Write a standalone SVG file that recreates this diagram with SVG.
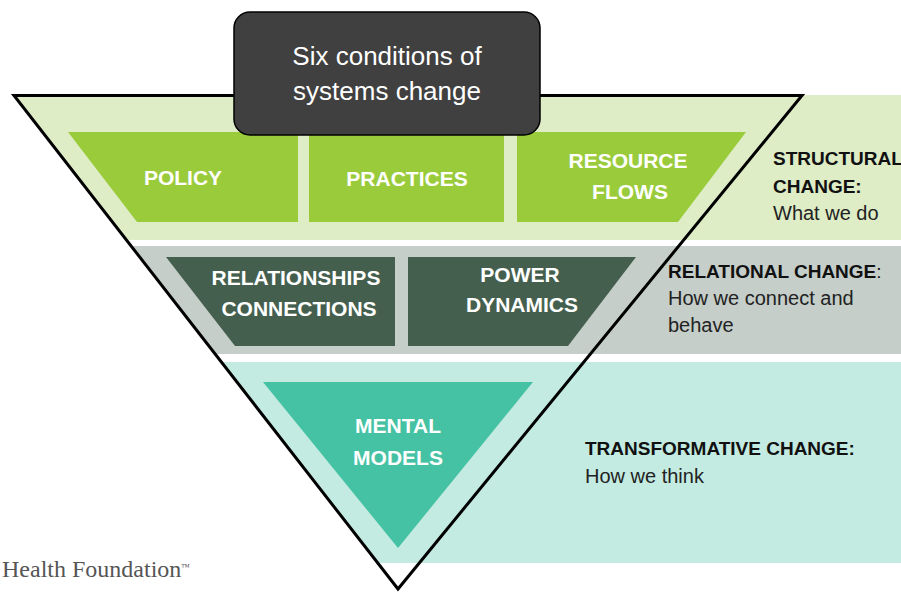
<svg xmlns="http://www.w3.org/2000/svg" width="901" height="592" viewBox="0 0 901 592">
<style>
.lbl{font-family:"Liberation Sans",Arial,sans-serif;font-weight:bold;font-size:21px;fill:#ffffff;text-anchor:middle}
.hd{font-family:"Liberation Sans",Arial,sans-serif;font-weight:bold;font-size:19px;fill:#111111}
.tx{font-family:"Liberation Sans",Arial,sans-serif;font-size:20px;fill:#222222}
.ttl{font-family:"Liberation Sans",Arial,sans-serif;font-size:26px;fill:#ffffff;text-anchor:middle}
</style>
<rect width="901" height="592" fill="#ffffff"/>
<g id="bands">
<polygon points="14,95 901,95 901,240 126.5,240" fill="#DEEDC6"/>
<polygon points="131,246 901,246 901,354 215,354" fill="#C5CEC9"/>
<polygon points="221,362 901,362 901,563 377,563" fill="#C3EBE1"/>
</g>
<g id="policy">
<polygon points="68,132 298,132 298,222 137,222" fill="#9ACB3B"/>
<text class="lbl" x="183" y="185">POLICY</text>
</g>
<g id="practices">
<rect x="309" y="132" width="195" height="90" fill="#9ACB3B"/>
<text class="lbl" x="407" y="186">PRACTICES</text>
</g>
<g id="resource-flows">
<polygon points="517,132 746,132 678,222 517,222" fill="#9ACB3B"/>
<text class="lbl" x="628" y="168">RESOURCE</text>
<text class="lbl" x="630" y="199">FLOWS</text>
</g>
<g id="relationships-connections">
<polygon points="166,257 395,257 395,346 235,346" fill="#455F4F"/>
<text class="lbl" x="296" y="285">RELATIONSHIPS</text>
<text class="lbl" x="299" y="316">CONNECTIONS</text>
</g>
<g id="power-dynamics">
<polygon points="408,257 636,257 568,346 408,346" fill="#455F4F"/>
<text class="lbl" x="520" y="282">POWER</text>
<text class="lbl" x="522" y="312">DYNAMICS</text>
</g>
<g id="mental-models">
<polygon points="263,382 533,382 398,548" fill="#45C2A3"/>
<text class="lbl" x="398" y="433">MENTAL</text>
<text class="lbl" x="398" y="465">MODELS</text>
</g>
<g id="outline">
<polygon points="14,95.5 802,95.5 398,589" fill="none" stroke="#000000" stroke-width="3" stroke-linejoin="miter"/>
</g>
<g id="title">
<rect x="234" y="12" width="306" height="123" rx="16" ry="16" fill="#404040" stroke="#000000" stroke-width="1.5"/>
<text class="ttl" x="387" y="65">Six conditions of</text>
<text class="ttl" x="387" y="100">systems change</text>
</g>
<g id="structural-label">
<text class="hd" x="773" y="165">STRUCTURAL</text>
<text class="hd" x="773" y="193">CHANGE:</text>
<text class="tx" x="773" y="220">What we do</text>
</g>
<g id="relational-label">
<text class="hd" x="668" y="278">RELATIONAL CHANGE<tspan font-weight="normal">:</tspan></text>
<text class="tx" x="668" y="305">How we connect and</text>
<text class="tx" x="668" y="332">behave</text>
</g>
<g id="transformative-label">
<text class="hd" x="585" y="455">TRANSFORMATIVE CHANGE:</text>
<text class="tx" x="585" y="483">How we think</text>
</g>
<g id="footer">
<text x="2" y="577" font-family="Liberation Serif,Times New Roman,serif" font-size="24" fill="#555555">Health Foundation<tspan font-size="9" dy="-7">™</tspan></text>
</g>
</svg>
